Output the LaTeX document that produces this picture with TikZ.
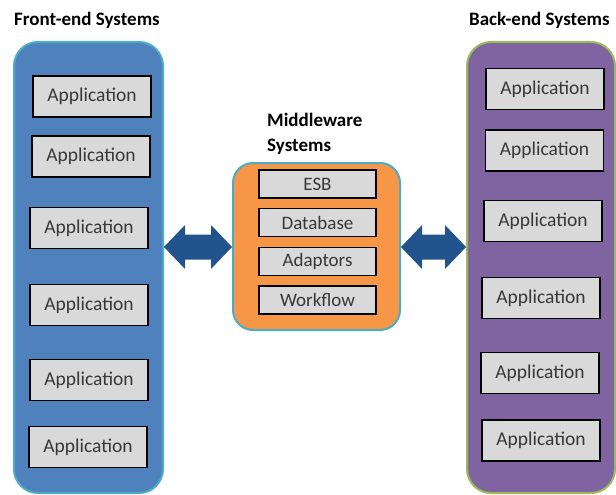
\documentclass[tikz,border=0pt]{standalone}
\usepackage{fontspec}
\setmainfont{Carlito}
\usetikzlibrary{calc}
\definecolor{frontfill}{HTML}{4F81BD}
\definecolor{backfill}{HTML}{8064A2}
\definecolor{midfill}{HTML}{F79646}
\definecolor{cyanline}{HTML}{4BACC6}
\definecolor{greenline}{HTML}{9BBB59}
\definecolor{boxfill}{HTML}{D9D9D9}
\definecolor{boxtext}{HTML}{383838}
\definecolor{arrowcol}{HTML}{22538C}
\begin{document}
\begin{tikzpicture}[x=1pt,y=-1pt,
  panel/.style={rounded corners=24pt, line width=2pt, inner sep=0pt},
  appbox/.style={draw=black, line width=1.6pt, fill=boxfill, text=boxtext,
    minimum width=118pt, minimum height=41pt, inner sep=0pt,
    font=\fontsize{19.5}{22}\selectfont},
  midbox/.style={appbox, minimum width=117pt, minimum height=28pt,
    font=\fontsize{19}{22}\selectfont},
  title/.style={font=\fontsize{19}{25}\selectfont\bfseries, text=black, inner sep=0pt},
  bigarrow/.style={fill=arrowcol}
]
\useasboundingbox (0,0) rectangle (616,495);
\clip (0,0) rectangle (616,495);
% panels
\node[panel, draw=cyanline, fill=frontfill, minimum width=149pt, minimum height=451pt] (front) at (88.5,267.5) {};
\node[panel, draw=greenline, fill=backfill, minimum width=148pt, minimum height=451pt] (back) at (541,267.5) {};
\node[panel, rounded corners=20pt, draw=cyanline, fill=midfill, minimum width=167pt, minimum height=167pt] (mid) at (316.5,246.5) {};
% titles
\node[title, anchor=west] (ftitle) at (14,20) {Front-end Systems};
\node[title, anchor=west] (btitle) at (469,20) {Back-end Systems};
\node[title, anchor=west, align=left] (mtitle) at (267,134) {Middleware\\Systems};
% front applications
\node[appbox] (f1) at (92,96.5) {Application};
\node[appbox] (f2) at (91,156.5) {Application};
\node[appbox] (f3) at (89,228) {Application};
\node[appbox] (f4) at (89,305) {Application};
\node[appbox] (f5) at (89,380) {Application};
\node[appbox] (f6) at (88,447) {Application};
% back applications
\node[appbox] (b1) at (545,89) {Application};
\node[appbox] (b2) at (544.5,150.5) {Application};
\node[appbox] (b3) at (543,221) {Application};
\node[appbox] (b4) at (541,298) {Application};
\node[appbox] (b5) at (540,373) {Application};
\node[appbox] (b6) at (541,440.5) {Application};
% middleware boxes
\node[midbox] (esb) at (317.5,184) {ESB};
\node[midbox] (db) at (317.5,222.5) {Database};
\node[midbox] (ad) at (317.5,261.5) {Adaptors};
\node[midbox] (wf) at (317.5,300) {Workflow};
% double arrows
\coordinate (la) at (front.east |- 0,247);
\coordinate (lb) at (mid.west |- 0,247);
\coordinate (ra) at (mid.east |- 0,247);
\coordinate (rb) at (back.west |- 0,247);
\fill[bigarrow] (la) -- ++(21,-22) -- ++(0,9.5) -- ($(lb)+(-21,-12.5)$) -- ++(0,-9.5) -- (lb)
  -- ++(-21,22) -- ++(0,-9.5) -- ($(la)+(21,12.5)$) -- ++(0,9.5) -- cycle;
\fill[bigarrow] (ra) -- ++(21,-22) -- ++(0,9.5) -- ($(rb)+(-21,-12.5)$) -- ++(0,-9.5) -- (rb)
  -- ++(-21,22) -- ++(0,-9.5) -- ($(ra)+(21,12.5)$) -- ++(0,9.5) -- cycle;
\end{tikzpicture}
\end{document}
